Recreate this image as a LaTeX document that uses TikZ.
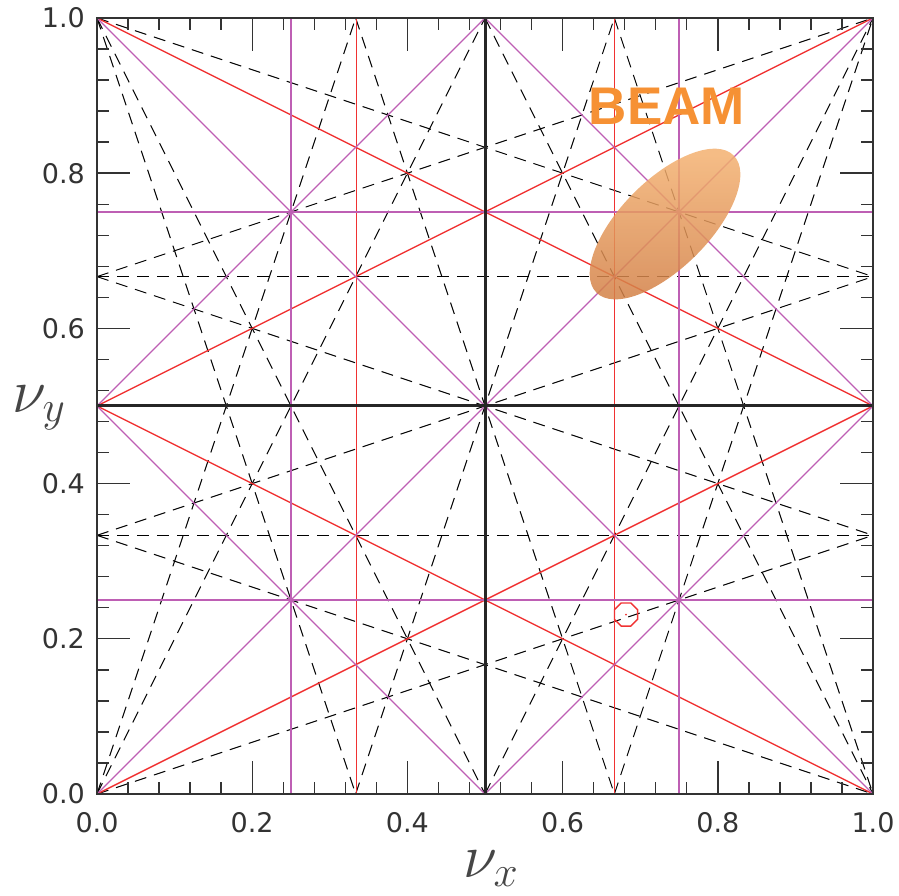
\RequirePackage{fix-cm}
\documentclass[tikz,border=0pt]{standalone}
\usepackage{fontspec}
\setmainfont{DejaVu Sans}
\newfontfamily\beamfont{Liberation Sans}
\usetikzlibrary{shapes.geometric}
\definecolor{resred}{RGB}{240,50,50}
\definecolor{respurple}{RGB}{190,95,180}
\definecolor{beamorange}{RGB}{246,145,52}
\definecolor{beamlight}{RGB}{243,176,112}
\definecolor{beamdark}{RGB}{212,130,72}
\definecolor{axisgray}{RGB}{51,51,51}
\definecolor{labelgray}{RGB}{70,70,70}
\tikzset{
  redline/.style={draw=resred, line width=1.35pt},
  purpleline/.style={draw=respurple, line width=1.2pt},
  dashline/.style={draw=black, line width=1pt, dash pattern=on 12pt off 8pt},
  halfline/.style={draw=black!85, line width=3pt},
  framebox/.style={draw=axisgray, line width=1.8pt},
  tickmark/.style={draw=axisgray, line width=1.4pt},
  ticklabel/.style={font=\fontsize{27}{30}\selectfont, text=axisgray, inner sep=0pt},
  axislabel/.style={font=\fontsize{62}{70}\selectfont, text=labelgray, inner sep=0pt},
}
\begin{document}
\begin{tikzpicture}[x=1pt,y=1pt]
\useasboundingbox (0,0) rectangle (899,896);
\begin{scope}[shift={(97,102)}, x=776pt, y=776pt]
  % skew resonances (dashed)
  \foreach \a/\b/\c/\d in {
    0/0.3333/1/0.3333, 0/0.6667/1/0.6667,
    0/1/0.5/0, 0.5/1/1/0, 0/0/0.5/1, 0.5/0/1/1,
    0/1/0.3333/0, 0.3333/1/0.6667/0, 0.6667/1/1/0,
    0/0/0.3333/1, 0.3333/0/0.6667/1, 0.6667/0/1/1,
    0/0.3333/1/0, 0/0.6667/1/0.3333, 0/1/1/0.6667,
    0/0/1/0.3333, 0/0.3333/1/0.6667, 0/0.6667/1/1}
    \draw[dashline] (\a,\b) -- (\c,\d);
  % third-order normal resonances (red)
  \draw[redline] (0.334,0) -- (0.334,1);
  \draw[redline] (0.6667,0) -- (0.6667,1);
  \foreach \a/\b/\c/\d in {0/0/1/0.5, 0/0.5/1/1, 0/0.5/1/0, 0/1/1/0.5}
    \draw[redline] (\a,\b) -- (\c,\d);
  % fourth-order normal resonances (purple)
  \foreach \a/\b/\c/\d in {
    0.25/0/0.25/1, 0.75/0/0.75/1, 0/0.25/1/0.25, 0/0.75/1/0.75,
    0/0/1/1, 0/1/1/0, 0/0.5/0.5/1, 0.5/0/1/0.5, 0/0.5/0.5/0, 0.5/1/1/0.5}
    \draw[purpleline] (\a,\b) -- (\c,\d);
  % half-integer lines
  \draw[halfline] (0.5,0) -- (0.5,1);
  \draw[halfline] (0,0.5) -- (1,0.5);
  % frame
  \draw[framebox] (0,0) rectangle (1,1);
  % ticks
  \foreach \v in {0.04,0.08,0.12,0.16,0.24,0.28,0.32,0.36,0.44,0.48,0.52,0.56,0.64,0.68,0.72,0.76,0.84,0.88,0.92,0.96}{
    \draw[tickmark] (\v,0) -- ++(0,12pt);
    \draw[tickmark] (\v,1) -- ++(0,-12pt);
    \draw[tickmark] (0,\v) -- ++(12pt,0);
    \draw[tickmark] (1,\v) -- ++(-12pt,0);
  }
  \foreach \v in {0.2,0.4,0.6,0.8}{
    \draw[tickmark] (\v,0) -- ++(0,33pt);
    \draw[tickmark] (\v,1) -- ++(0,-33pt);
    \draw[tickmark] (0,\v) -- ++(33pt,0);
    \draw[tickmark] (1,\v) -- ++(-33pt,0);
  }
  % tick labels
  \foreach \v/\t [count=\i] in {0/0.0,0.2/0.2,0.4/0.4,0.6/0.6,0.8/0.8,1/1.0}{
    \node[ticklabel, anchor=east] (yl\i) at ([xshift=-12pt]0,\v) {\t};
    \node[ticklabel, anchor=north] (xl\i) at ([yshift=-18pt]\v,0) {\t};
  }
  % beam
  \shade[top color=beamlight, bottom color=beamdark, fill opacity=0.85]
    (0.732,0.7345) ellipse [x radius=97pt, y radius=44pt, rotate=45];
  \node[regular polygon, regular polygon sides=8, draw=resred, line width=1.4pt,
        minimum size=25pt, inner sep=0pt] (oct) at (0.6817,0.2313) {};
  \fill[resred] (oct.center) circle (1pt);
  \node[font=\beamfont\bfseries\fontsize{53}{60}\selectfont, text=beamorange, inner sep=0pt] (beam) at (0.7345,0.886) {BEAM};
\end{scope}
\node[axislabel] (nux) at (491,27) {$\nu_x$};
\node[axislabel] (nuy) at (39,488) {$\nu_y$};
\end{tikzpicture}
\end{document}
